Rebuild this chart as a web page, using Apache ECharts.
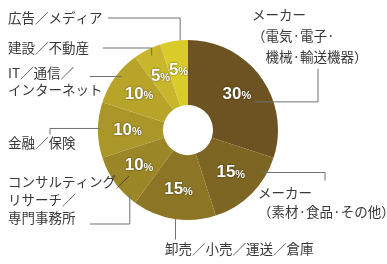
<!DOCTYPE html>
<html>
<head>
<meta charset="utf-8">
<script src="https://cdn.jsdelivr.net/npm/echarts@6/dist/echarts.min.js"></script>
<style>
  html, body { margin: 0; padding: 0; background: #fff; }
  #chart { width: 387px; height: 264px; }
</style>
</head>
<body>
<div id="chart"></div>
<script>
// clockwise from 12 o'clock
var categories = [
  'メーカー\n（電気·電子·\n　機械·輸送機器）',
  'メーカー\n（素材·食品·その他）',
  '卸売／小売／運送／倉庫',
  'コンサルティング／\nリサーチ／\n専門事務所',
  '金融／保険',
  'IT／通信／\nインターネット',
  '建設／不動産',
  '広告／メディア'
];
var shares = [30, 15, 15, 10, 10, 10, 5, 5];
var colors = ['#6d5321', '#7d6523', '#8c7625', '#9b8727', '#aa9629', '#b9a42a', '#c8b62c', '#d8cb2a'];

// layout of the outside labels and their leader lines
var CX = 188, CY = 130;
var labelPos = [[252, 4.5], [258, 183.5], [165, 239.5], [8, 173], [8, 133.5], [8, 64.5], [8, 38.5], [8, 8.5]];
var lineHeights = [21, 19, 19, 18, 19, 17, 19, 19];
// leader start: angle (deg, clockwise from top) and radius on the ring
var leaderAngle = [67, 120, 188, 222, 271, 309, 334, 355];
var leaderR = [72, 85, 90, 87, 88, 85, 83, 90];
var leaderRoute = ['hv', 'hv', 'v', 'vh', 'hv', 'h', 'vh', 'vh'];
var leaderEnd = [[66, 64], [67, -3], [0, 0], [82, 51], [42, 1], [82, 0], [95, 9.5], [100, 9.5]];

function polar(angle, r) {
  var a = angle * Math.PI / 180;
  return [CX + r * Math.sin(a), CY - r * Math.cos(a)];
}

var chart = echarts.init(document.getElementById('chart'));

var innerData = categories.map(function(name, i) {
  return { name: name, value: shares[i], itemStyle: { color: colors[i] } };
});
var outerData = categories.map(function(name, i) {
  return { name: name, value: shares[i], label: { lineHeight: lineHeights[i] } };
});

var shadow = { textShadowColor: 'rgba(0,0,0,0.65)', textShadowBlur: 2 };

chart.setOption({
  animation: false,
  series: [
    {
      type: 'pie',
      z: 2,
      center: [CX, CY],
      radius: [25, 90],
      startAngle: 90,
      silent: true,
      avoidLabelOverlap: false,
      minShowLabelAngle: 0,
      data: innerData,
      itemStyle: { borderWidth: 0 },
      label: {
        show: true,
        position: 'inside',
        formatter: function(p) { return '{n|' + p.value + '}{p|%}'; },
        rich: {
          n: Object.assign({ color: '#fff', fontSize: 17, fontWeight: 'bold', fontFamily: 'Liberation Sans' }, shadow),
          p: Object.assign({ color: '#fff', fontSize: 11, fontWeight: 'bold', fontFamily: 'Liberation Sans',
               padding: [4, 0, 0, 0] }, shadow)
        }
      },
      labelLayout: { hideOverlap: false },
      labelLine: { show: false }
    },
    {
      type: 'pie',
      z: 4,
      center: [CX, CY],
      radius: [25, 90],
      startAngle: 90,
      silent: true,
      avoidLabelOverlap: false,
      data: outerData,
      itemStyle: { color: 'rgba(0,0,0,0)', borderWidth: 0 },
      label: {
        show: true,
        position: 'outside',
        formatter: '{b}',
        color: '#383838',
        fontSize: 13.5,
        fontFamily: 'Noto Sans CJK JP',
        align: 'left',
        overflow: 'none'
      },
      labelLine: {
        show: true,
        length: 4,
        length2: 4,
        lineStyle: { color: '#707070', width: 1 }
      },
      labelLayout: function(params) {
        var i = params.dataIndex;
        var x = labelPos[i][0], y = labelPos[i][1];
        var p0 = polar(leaderAngle[i], leaderR[i]);
        var ax = x + leaderEnd[i][0], ay = y + leaderEnd[i][1];
        var pts;
        switch (leaderRoute[i]) {
          case 'hv': pts = [p0, [ax, p0[1]], [ax, ay]]; break;
          case 'vh': pts = [p0, [p0[0], ay], [ax, ay]]; break;
          case 'v': pts = [p0, [p0[0], ay]]; break;
          default: pts = [p0, [ax, p0[1]]];
        }
        return { x: x, y: y, align: 'left', verticalAlign: 'top', hideOverlap: false, labelLinePoints: pts };
      }
    }
  ]
});
</script>
</body>
</html>
